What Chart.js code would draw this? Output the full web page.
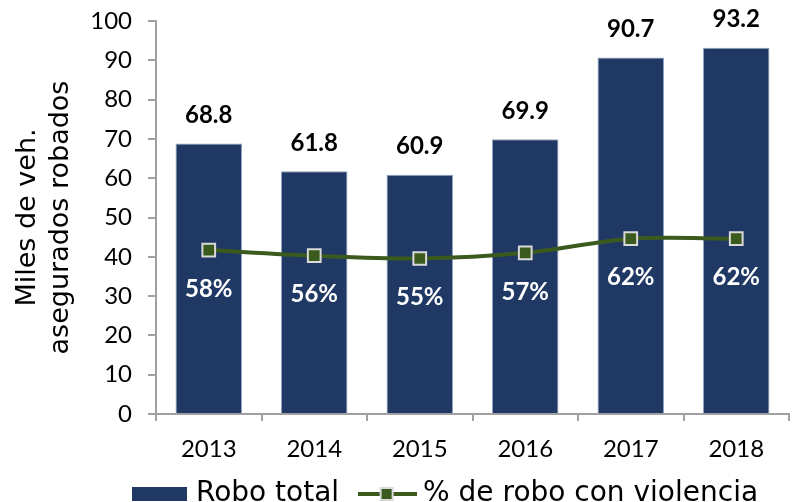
<!DOCTYPE html>
<html>
<head>
<meta charset="utf-8">
<script src="https://cdn.jsdelivr.net/npm/chart.js@4"></script>
<style>
  html, body { margin: 0; padding: 0; background: #fff; }
  #wrap { width: 800px; height: 502px; }
</style>
</head>
<body>
<div id="wrap"><canvas id="chart"></canvas></div>
<script>
// datos
const years = ['2013', '2014', '2015', '2016', '2017', '2018'];
const roboTotal = [68.8, 61.8, 60.9, 69.9, 90.7, 93.2];
const pctViolencia = [58, 56, 55, 57, 62, 62];

const BAR = '#1F3864';
const GREEN = '#3B5A1E';
const NUM_FONT = 'Lato';
const TXT_FONT = 'DejaVu Sans';

// iconos de la leyenda
function makeIcon(kind) {
  const c = document.createElement('canvas');
  c.width = kind === 'bar' ? 55 : 59;
  c.height = 16;
  const g = c.getContext('2d');
  if (kind === 'bar') {
    g.fillStyle = BAR;
    g.fillRect(0, 1, 55, 14);
  } else {
    g.strokeStyle = GREEN; g.lineWidth = 4;
    g.beginPath(); g.moveTo(0, 8); g.lineTo(59, 8); g.stroke();
    g.fillStyle = '#D9D9D9'; g.fillRect(22, 1, 14, 14);
    g.fillStyle = GREEN; g.fillRect(24, 3, 10, 10);
  }
  return c;
}
const barIcon = makeIcon('bar');
const lineIcon = makeIcon('line');

const labelPlugin = {
  id: 'valueLabels',
  afterLayout(chart) {
    // mover la leyenda a su sitio del original
    const lg = chart.legend;
    lg.top -= 18;
    lg.left += 48;
    lg.right += 48;
  },
  afterDatasetsDraw(chart) {
    const ctx = chart.ctx;
    ctx.save();
    ctx.textAlign = 'center';
    ctx.textBaseline = 'middle';
    ctx.font = 'bold 24px ' + NUM_FONT;
    chart.getDatasetMeta(1).data.forEach((bar, i) => {
      ctx.fillStyle = '#000';
      ctx.fillText(roboTotal[i].toFixed(1), bar.x, bar.y - 28);
    });
    chart.getDatasetMeta(0).data.forEach((pt, i) => {
      ctx.fillStyle = '#fff';
      ctx.fillText(pctViolencia[i] + '%', pt.x, pt.y + 39);
    });
    ctx.restore();
  }
};

new Chart(document.getElementById('chart'), {
  data: {
    labels: years,
    datasets: [
      {
        type: 'line',
        label: '% de robo con violencia',
        data: pctViolencia,
        yAxisID: 'y1',
        borderColor: GREEN,
        borderWidth: 4,
        tension: 0.3,
        pointStyle: 'rect',
        pointRadius: 9,
        pointBackgroundColor: GREEN,
        pointBorderColor: '#D9D9D9',
        pointBorderWidth: 2,
        order: 0
      },
      {
        type: 'bar',
        label: 'Robo total',
        data: roboTotal,
        yAxisID: 'y',
        backgroundColor: BAR,
        borderColor: '#8EA0BE',
        borderWidth: 1,
        barPercentage: 0.63,
        categoryPercentage: 1,
        order: 1
      }
    ]
  },
  options: {
    responsive: true,
    maintainAspectRatio: false,
    animation: false,
    layout: { padding: { top: 21, right: 0, left: 0, bottom: 0 } },
    plugins: {
      tooltip: { enabled: false },
      legend: {
        position: 'bottom',
        reverse: true,
        maxHeight: 30,
        labels: {
          usePointStyle: true,
          pointStyleWidth: 44,
          padding: 26,
          color: '#000',
          font: { family: TXT_FONT, size: 28 },
          generateLabels(chart) {
            const items = Chart.defaults.plugins.legend.labels.generateLabels(chart);
            items.forEach(it => {
              it.pointStyle = it.datasetIndex === 1 ? barIcon : lineIcon;
            });
            return items;
          }
        }
      }
    },
    scales: {
      x: {
        grid: { drawOnChartArea: false, offset: true, tickLength: 7, color: '#A0A0A0', lineWidth: 2 },
        border: { color: '#A0A0A0', width: 2 },
        ticks: { color: '#000', padding: 14, font: { family: NUM_FONT, size: 24 } },
        afterFit(s) { s.height = 58; }
      },
      y: {
        min: 0, max: 100,
        ticks: { stepSize: 10, color: '#000', padding: 16, font: { family: NUM_FONT, size: 24 } },
        grid: { drawOnChartArea: false, tickLength: 8, color: '#A0A0A0', lineWidth: 2 },
        border: { color: '#A0A0A0', width: 2 },
        title: {
          display: true,
          text: ['Miles de veh.', 'asegurados robados'],
          color: '#000',
          padding: { top: 12, bottom: 0 },
          font: { family: TXT_FONT, size: 27, lineHeight: 1.2 }
        },
        afterFit(s) {
          s.width = 156;
          s.paddingTop = 0;
          s.paddingBottom = 0;
        }
      },
      y1: {
        display: false,
        min: 0, max: 139
      }
    }
  },
  plugins: [labelPlugin]
});
</script>
</body>
</html>
